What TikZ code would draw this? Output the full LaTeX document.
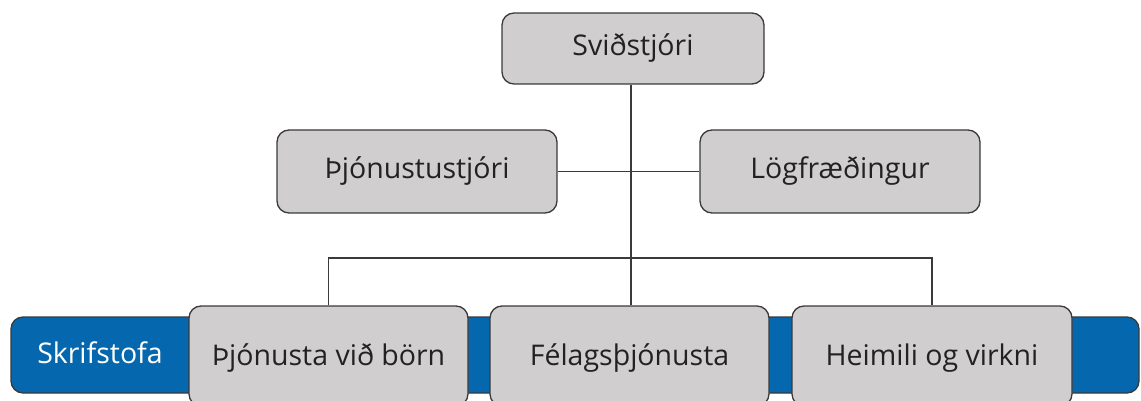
\documentclass[tikz,border=0pt]{standalone}
\usepackage{fontspec}
\setmainfont{Open Sans}
\definecolor{boxfill}{HTML}{D0CECF}
\definecolor{boxline}{HTML}{3A3A3A}
\definecolor{barblue}{HTML}{0568AE}
\definecolor{txt}{HTML}{222222}
\begin{document}
\begin{tikzpicture}[x=1pt,y=-1pt,
  orgbox/.style={draw=boxline, line width=1.3pt, fill=boxfill, rounded corners=12pt,
    inner sep=0pt, text=txt, font=\fontsize{28.5}{34}\selectfont},
  link/.style={draw=boxline, line width=1.2pt}]
\useasboundingbox (0,0) rectangle (1141,401);
% blue bar
\node[draw=boxline, line width=1.3pt, fill=barblue, rounded corners=12pt, inner sep=0pt,
  minimum width=1128pt, minimum height=76pt] (bar) at (575,355) {};
\node[text=white, font=\fontsize{28.5}{34}\selectfont, inner sep=0pt] (skrif) at (100,353) {Skrifstofa};
% top
\node[orgbox, minimum width=262pt, minimum height=71pt] (top) at (633,48.5) {Sviðstjóri};
\node[orgbox, minimum width=280pt, minimum height=83pt] (thj) at (417,171.5) {Þjónustustjóri};
\node[orgbox, minimum width=280pt, minimum height=83pt] (log) at (840,171.5) {Lögfræðingur};
% bottom (cut by the lower edge)
\node[orgbox, minimum width=279pt, minimum height=100pt, text depth=2.5pt] (b1) at (328.5,356) {Þjónusta við börn};
\node[orgbox, minimum width=279pt, minimum height=100pt, text depth=2.5pt] (b2) at (629.5,356) {Félagsþjónusta};
\node[orgbox, minimum width=280pt, minimum height=100pt, text depth=2.5pt] (b3) at (932,356) {Heimili og virkni};
% connectors
\coordinate (busL) at (b1.north |- 0,258);
\coordinate (busR) at (b3.north |- 0,258);
\coordinate (busM) at (631,258);
\draw[link] (top.south -| busM) -- (b2.north -| busM);
\draw[link] (thj.east) -- (log.east -| log.west);
\draw[link] (b1.north) -- (busL) -- (busR) -- (b3.north);
\end{tikzpicture}
\end{document}
